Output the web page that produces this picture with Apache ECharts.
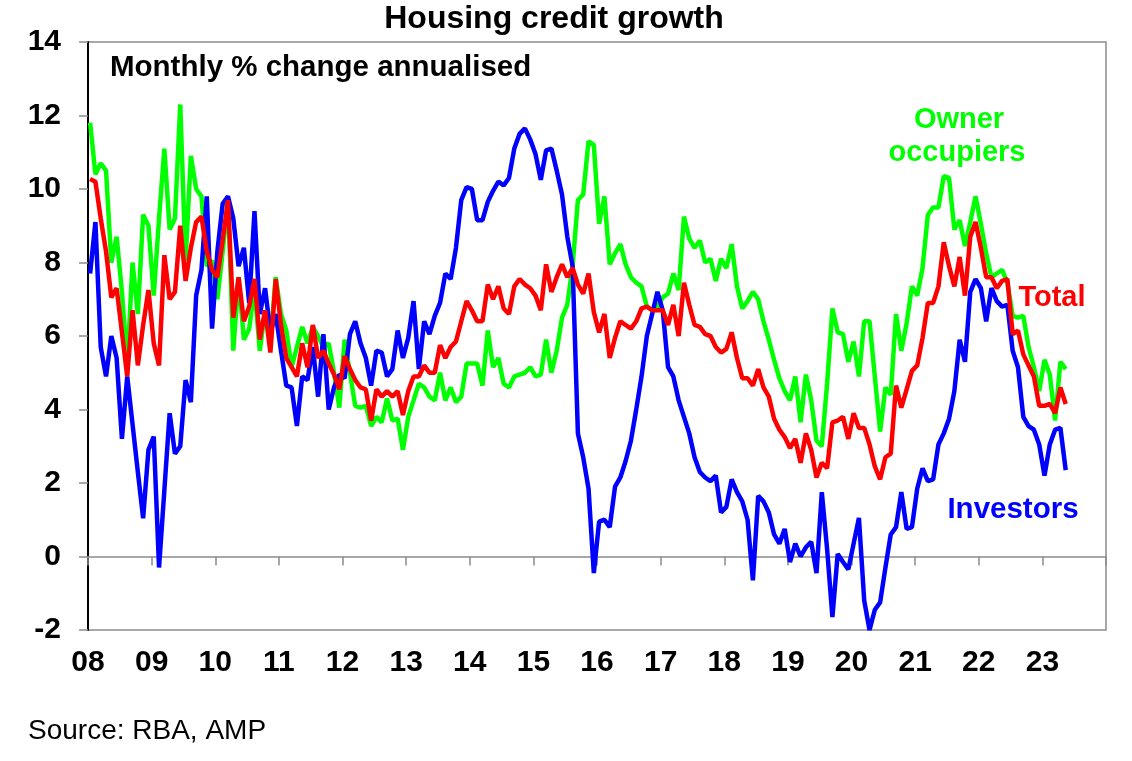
<!DOCTYPE html>
<html>
<head>
<meta charset="utf-8">
<script src="https://cdn.jsdelivr.net/npm/echarts@6/dist/echarts.min.js"></script>
<style>
html,body{margin:0;padding:0;background:#fff;}
#chart{width:1132px;height:761px;}
</style>
</head>
<body>
<div id="chart"></div>
<script>
// Monthly data, Jan 2008 .. May 2023
const startYear = 2008;
const yTicks = [-2, 0, 2, 4, 6, 8, 10, 12, 14];
const yearLabels = ['08','09','10','11','12','13','14','15','16','17','18','19','20','21','22','23'];

const ownerOccupiers = [
  11.8,10.4,10.7,10.5,8.0,8.7,7.2,5.2,8.0,6.6,9.3,9.0,
  7.1,9.2,11.1,8.9,9.2,12.3,8.05,10.9,10.0,9.8,7.9,8.05,
  7.0,8.3,9.7,5.6,7.6,5.9,6.2,7.3,5.6,6.7,5.8,7.6,
  6.6,6.15,5.15,5.7,6.25,5.8,6.25,6.0,5.7,5.8,5.0,4.05,
  5.9,5.0,4.1,4.05,4.1,3.55,3.8,3.65,4.3,3.7,3.75,2.9,
  3.8,4.25,4.7,4.6,4.35,4.25,5.0,4.25,4.6,4.2,4.35,5.25,
  5.25,5.25,4.65,6.15,5.15,5.4,4.7,4.6,4.9,4.95,5.0,5.15,
  4.9,4.95,5.9,5.0,5.6,6.5,6.85,7.9,9.7,9.85,11.3,11.2,
  9.05,9.8,7.95,8.25,8.5,7.95,7.6,7.45,7.35,6.8,6.7,6.8,
  7.05,7.15,7.7,7.25,9.25,8.65,8.4,8.6,8.0,8.1,7.5,8.1,
  7.85,8.5,7.35,6.75,6.95,7.2,7.0,6.4,5.9,5.35,4.85,4.5,
  4.25,4.9,3.65,4.95,4.25,3.15,3.0,4.7,6.75,6.1,6.05,5.3,
  5.85,4.9,6.4,6.4,4.9,3.4,4.6,4.4,6.6,5.6,6.35,7.35,
  7.1,7.85,9.3,9.5,9.5,10.35,10.3,8.9,9.15,8.45,9.1,9.8,
  9.05,8.25,7.6,7.7,7.8,7.45,6.55,6.5,6.55,5.7,5.15,4.5,
  5.35,4.95,3.7,5.3,5.1
];

const total = [
  10.27,10.2,9.2,8.3,7.05,7.3,6.1,4.9,6.7,5.2,6.3,7.25,
  5.8,5.2,8.2,7.0,7.2,9.0,7.5,8.4,9.1,9.25,8.3,7.8,
  7.6,8.6,9.7,6.5,7.6,6.4,6.8,7.55,5.9,6.7,5.55,7.55,
  6.3,5.4,5.15,4.9,5.8,5.15,6.3,5.4,5.6,5.25,4.95,4.55,
  5.45,5.1,4.8,4.6,4.55,3.7,4.55,4.35,4.5,4.35,4.5,3.85,
  4.5,4.9,4.9,5.2,5.0,5.0,5.75,5.4,5.7,5.85,6.4,6.95,
  6.7,6.4,6.4,7.4,7.0,7.35,6.75,6.6,7.35,7.55,7.4,7.3,
  7.1,6.7,7.95,7.2,7.6,7.95,7.6,7.85,7.4,7.15,7.7,6.65,
  6.1,6.6,5.4,5.95,6.4,6.3,6.2,6.4,6.75,6.8,6.7,6.7,
  6.7,6.3,6.85,6.0,7.45,6.85,6.3,6.25,6.05,6.0,5.7,5.55,
  5.65,6.1,5.4,4.85,4.85,4.65,5.1,4.6,4.35,3.75,3.45,3.25,
  2.95,3.2,2.55,3.35,2.9,2.15,2.55,2.4,3.65,3.7,3.8,3.2,
  3.9,3.5,3.5,3.05,2.45,2.1,2.7,2.8,4.65,4.05,4.55,5.05,
  5.2,5.95,6.9,6.9,7.35,8.55,7.9,7.35,8.15,7.1,8.7,9.1,
  8.4,7.6,7.6,7.3,7.5,7.55,6.05,6.15,5.5,5.2,4.9,4.1,
  4.1,4.15,3.9,4.6,4.15
];

const investors = [
  7.7,9.1,5.7,4.9,6.0,5.4,3.2,4.9,3.6,2.3,1.04,2.9,
  3.26,-0.3,1.8,3.9,2.8,3.0,4.8,4.2,7.1,7.8,9.8,6.2,
  8.3,9.6,9.8,9.2,7.9,8.4,6.9,9.4,6.6,7.3,6.1,6.6,
  5.6,4.65,4.6,3.55,4.9,4.8,5.7,4.35,6.05,4.0,4.6,4.95,
  4.85,6.05,6.4,5.8,5.4,4.65,5.6,5.55,4.9,5.1,6.15,5.4,
  5.95,6.95,5.1,6.4,6.05,6.55,6.9,7.7,7.55,8.4,9.7,10.05,
  10.0,9.15,9.15,9.65,9.95,10.2,10.1,10.3,11.1,11.5,11.65,11.35,
  10.95,10.25,11.05,11.1,10.5,9.85,8.7,7.9,3.35,2.7,1.85,-0.45,
  0.95,1.0,0.8,1.9,2.15,2.6,3.15,4.0,4.9,6.0,6.6,7.2,
  6.7,5.15,4.9,4.25,3.8,3.35,2.7,2.3,2.15,2.05,2.2,1.2,
  1.35,2.1,1.75,1.5,1.0,-0.65,1.65,1.5,1.2,0.6,0.35,0.75,
  -0.15,0.35,0.0,0.25,0.4,-0.45,1.75,0.2,-1.65,0.07,-0.15,-0.35,
  0.35,1.05,-1.2,-2.0,-1.45,-1.25,-0.3,0.6,0.8,1.75,0.75,0.8,
  1.85,2.4,2.05,2.1,3.05,3.35,3.75,4.5,5.9,5.3,7.2,7.55,
  7.3,6.4,7.3,6.95,6.8,6.85,5.6,5.15,3.8,3.55,3.45,3.05,
  2.2,3.05,3.45,3.5,2.35
];

// month dates (mid-month) as fractional years
const dates = ownerOccupiers.map((_, i) => startYear + (i + 0.4) / 12);
const pair = arr => arr.map((v, i) => [dates[i], v]);

const FONT = "'Liberation Sans', Arial, Helvetica, sans-serif";
const chart = echarts.init(document.getElementById('chart'), null, {renderer: 'canvas'});

chart.setOption({
  animation: false,
  backgroundColor: '#ffffff',
  grid: {
    left: 88, right: 26, top: 42, bottom: 131,
    show: true, borderColor: '#8c8c8c', borderWidth: 1.5, backgroundColor: 'transparent'
  },
  xAxis: [
    {
      type: 'value', min: startYear, max: startYear + 16, interval: 1,
      axisLine: {show: true, onZero: true, lineStyle: {color: '#8c8c8c', width: 1.5}},
      axisTick: {show: true, inside: false, length: 9, lineStyle: {color: '#8c8c8c', width: 1.5}},
      axisLabel: {show: false},
      splitLine: {show: false}
    },
    {
      type: 'value', min: startYear, max: startYear + 16, interval: 1, position: 'bottom',
      axisLine: {show: false, onZero: false},
      axisTick: {show: false},
      axisLabel: {
        show: true, margin: 18, color: '#000', fontSize: 30, fontWeight: 'bold', fontFamily: FONT,
        formatter: v => { const k = Math.round(v - startYear); return yearLabels[k] !== undefined ? yearLabels[k] : ''; }
      },
      splitLine: {show: false}
    }
  ],
  yAxis: {
    type: 'value', min: yTicks[0], max: yTicks[yTicks.length - 1], interval: 2,
    axisLine: {show: true, onZero: false, lineStyle: {color: '#000', width: 2}},
    axisTick: {show: true, inside: false, length: 9, lineStyle: {color: '#8c8c8c', width: 1.5}},
    axisLabel: {margin: 27, color: '#000', fontSize: 30, fontWeight: 'bold', fontFamily: FONT},
    splitLine: {show: false}
  },
  series: [
    {name: 'Owner occupiers', type: 'line', xAxisIndex: 0, data: pair(ownerOccupiers), showSymbol: false, symbol: 'none',
     lineStyle: {color: '#00ff00', width: 4.5}, itemStyle: {color: '#00ff00'}},
    {name: 'Investors', type: 'line', xAxisIndex: 0, data: pair(investors), showSymbol: false, symbol: 'none',
     lineStyle: {color: '#0000ff', width: 4.5}, itemStyle: {color: '#0000ff'}},
    {name: 'Total', type: 'line', xAxisIndex: 0, data: pair(total), showSymbol: false, symbol: 'none',
     lineStyle: {color: '#ff0000', width: 4.5}, itemStyle: {color: '#ff0000'}}
  ],
  graphic: [
    {type: 'text', x: 554, y: 19, style: {text: 'Housing credit growth', fill: '#000', fontSize: 32, fontWeight: 'bold', fontFamily: FONT, align: 'center', verticalAlign: 'middle'}},
    {type: 'text', x: 110, y: 68, style: {text: 'Monthly % change annualised', fill: '#000', fontSize: 29.5, fontWeight: 'bold', fontFamily: FONT, align: 'left', verticalAlign: 'middle'}},
    {type: 'text', x: 959, y: 120, style: {text: 'Owner', fill: '#00ff00', fontSize: 29, fontWeight: 'bold', fontFamily: FONT, align: 'center', verticalAlign: 'middle'}},
    {type: 'text', x: 957, y: 153, style: {text: 'occupiers', fill: '#00ff00', fontSize: 29, fontWeight: 'bold', fontFamily: FONT, align: 'center', verticalAlign: 'middle'}},
    {type: 'text', x: 1052, y: 298, style: {text: 'Total', fill: '#ff0000', fontSize: 29, fontWeight: 'bold', fontFamily: FONT, align: 'center', verticalAlign: 'middle'}},
    {type: 'text', x: 1013, y: 510, style: {text: 'Investors', fill: '#0000ff', fontSize: 29.5, fontWeight: 'bold', fontFamily: FONT, align: 'center', verticalAlign: 'middle'}},
    {type: 'text', x: 28, y: 731, style: {text: 'Source: RBA, AMP', fill: '#000', fontSize: 28, fontFamily: FONT, align: 'left', verticalAlign: 'middle'}}
  ]
});
</script>
</body>
</html>
